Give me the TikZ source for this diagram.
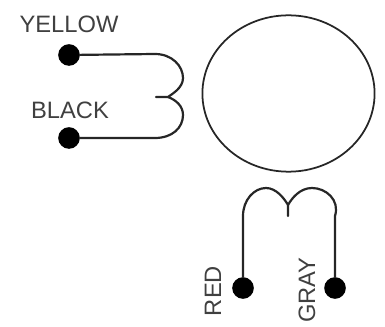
\documentclass[tikz,border=0pt]{standalone}
\usepackage{fontspec}
\setmainfont{Liberation Sans}
\usetikzlibrary{shapes.geometric}
\tikzset{
  terminal/.style={circle,fill=black,inner sep=0pt,minimum size=12.3pt},
  wirelabel/.style={text=black!75,font=\fontsize{13.5}{15}\selectfont,inner sep=0pt},
  wire/.style={line width=1.25pt,black!85}
}
\begin{document}
\begin{tikzpicture}[line cap=round,line join=round,x=0.02cm,y=-0.02cm]
\useasboundingbox (0,0) rectangle (385,327);
% rotor
\node[draw,line width=1pt,black!85,ellipse,inner sep=0pt,minimum width=98pt,minimum height=89pt] (rotor) at (288.5,93.5) {};
% terminals
\node[terminal] (yellow) at (69,55) {};
\node[terminal] (black) at (69,138) {};
\node[terminal] (red) at (243,288) {};
\node[terminal] (gray) at (335,288) {};
% labels
\node[wirelabel] (yellowlabel) at (69,24) {YELLOW};
\node[wirelabel] (blacklabel) at (70,110) {BLACK};
\node[wirelabel,rotate=90] (redlabel) at (213,291) {RED};
\node[wirelabel,rotate=90] (graylabel) at (307,290) {GRAY};
% windings
\coordinate (midleft) at (156,97);
\coordinate (midtop) at (288,216);
\draw[wire] (yellow) -- (155,54) .. controls (172,54) and (183,66) .. (183,78)
  .. controls (183,88) and (172,94) .. (168,97) -- (midleft);
\draw[wire] (black) -- (155,138) .. controls (172,138) and (183,128) .. (183,115)
  .. controls (183,106) and (176,100) .. (168,97);
\draw[wire] (red) -- (243,216) .. controls (243,200) and (254,188) .. (266,188)
  .. controls (276,188) and (284,198) .. (288,205) -- (midtop);
\draw[wire] (gray) -- (335,216) .. controls (340,200) and (326,188) .. (312,188)
  .. controls (300,188) and (292,198) .. (288,205);
\end{tikzpicture}
\end{document}
